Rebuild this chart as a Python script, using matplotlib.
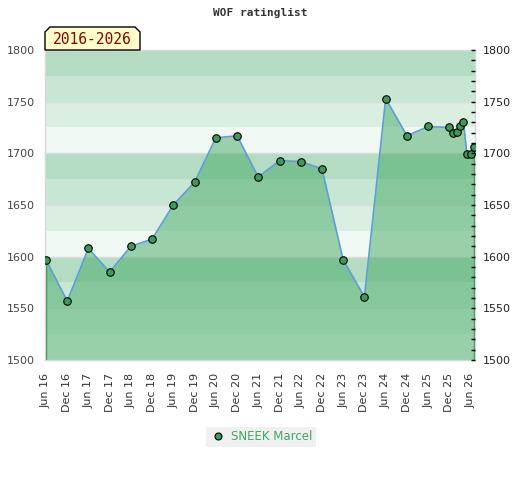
import matplotlib
matplotlib.use("Agg")
import matplotlib.pyplot as plt
import matplotlib.dates as mdates
from matplotlib.patches import Polygon
from matplotlib.lines import Line2D
import numpy as np
import datetime as dt

# ---- data ----
dates = ["2016-06-01", "2016-12-01", "2017-06-01", "2017-12-01", "2018-06-01",
         "2018-12-01", "2019-06-01", "2019-12-01", "2020-06-01", "2020-12-01",
         "2021-06-01", "2021-12-01", "2022-06-01", "2022-12-01", "2023-06-01",
         "2023-12-01", "2024-06-01", "2024-12-01", "2025-06-01", "2025-12-01",
         "2026-01-01", "2026-02-01", "2026-03-01", "2026-04-01", "2026-05-01",
         "2026-06-01", "2026-07-01"]
ratings = [1597, 1557, 1608, 1585, 1610, 1617, 1650, 1672, 1715, 1717,
           1677, 1693, 1692, 1685, 1597, 1561, 1753, 1717, 1726, 1725,
           1720, 1721, 1726, 1730, 1699, 1699, 1706]
tick_dates = ["2016-06-01", "2016-12-01", "2017-06-01", "2017-12-01", "2018-06-01",
              "2018-12-01", "2019-06-01", "2019-12-01", "2020-06-01", "2020-12-01",
              "2021-06-01", "2021-12-01", "2022-06-01", "2022-12-01", "2023-06-01",
              "2023-12-01", "2024-06-01", "2024-12-01", "2025-06-01", "2025-12-01",
              "2026-06-01"]
tick_labels = ["Jun 16", "Dec 16", "Jun 17", "Dec 17", "Jun 18", "Dec 18", "Jun 19",
               "Dec 19", "Jun 20", "Dec 20", "Jun 21", "Dec 21", "Jun 22", "Dec 22",
               "Jun 23", "Dec 23", "Jun 24", "Dec 24", "Jun 25", "Dec 25", "Jun 26"]
y_ticks = [1500, 1550, 1600, 1650, 1700, 1750, 1800]
title = "WOF ratinglist"
period = "2016-2026"
player = "SNEEK Marcel"

x = [dt.datetime.strptime(d, "%Y-%m-%d") for d in dates]
xt = [dt.datetime.strptime(d, "%Y-%m-%d") for d in tick_dates]

W, H = 520, 480
fig = plt.figure(figsize=(W / 100, H / 100), dpi=100)
L, R, T, B = 45, 475, 50, 360
ax = fig.add_axes([L / W, 1 - B / H, (R - L) / W, (B - T) / H])

ymin, ymax = 1500, 1800
band_cols = ["#eff8f2", "#dbeee2", "#c8e6d4", "#b3dcc2"]
for i, lo in enumerate(np.arange(ymin, ymax, 25)):
    ax.axhspan(lo, lo + 25, color=band_cols[i % 4], lw=0, zorder=0)
for yv in y_ticks:
    ax.axhline(yv, color="#dcdcdc", lw=1, zorder=0.5)

ax.fill_between(x, ratings, ymin, color="#45a966", alpha=0.5, lw=0, zorder=1)
ax.vlines([x[0], x[-1]], ymin, [ratings[0], ratings[-1]], color="#2e8b4e", lw=1, zorder=2)
ax.plot(x, ratings, color="#5a9fd8", lw=1.2, zorder=3)
ax.plot(x, ratings, ls="none", marker="o", ms=5.4, mfc="#3a9c5a", mec="black",
        mew=0.8, zorder=4)

pad = dt.timedelta(days=8)
ax.set_xlim(x[0] - pad, x[-1] + pad)
ax.set_ylim(ymin, ymax)
ax.set_xticks(xt)
ax.set_xticklabels(tick_labels, rotation=90, fontsize=8, color="#333333")
ax.tick_params(axis="x", length=0, pad=9)
ax.set_yticks(y_ticks)
ax.tick_params(axis="y", length=0, pad=7, labelsize=8, labelcolor="#444444")
for s in ax.spines.values():
    s.set_color("#d8d8d8")
    s.set_linewidth(1)

ax2 = ax.twinx()
ax2.set_ylim(ymin, ymax)
ax2.set_yticks(y_ticks)
ax2.set_yticks(np.arange(ymin, ymax + 1, 10), minor=True)
ax2.tick_params(axis="y", which="both", direction="in", length=3, width=1,
                color="black", labelsize=8, labelcolor="#222222", pad=5.5)
for s in ax2.spines.values():
    s.set_visible(False)

fig.text(260 / W, 1 - 13 / H, title, ha="center", va="center",
         family="DejaVu Sans Mono", fontweight="bold", fontsize=8, color="#333333")

bx = [(45, 50), (45, 32), (50, 27), (135, 27), (140, 32), (140, 50)]
poly = Polygon([(px / W, 1 - py / H) for px, py in bx], closed=True,
               transform=fig.transFigure, facecolor="#ffffcc", edgecolor="black",
               lw=1, zorder=10)
fig.patches.append(poly)
fig.text(92.5 / W, 1 - 39.5 / H, period, ha="center", va="center",
         family="DejaVu Sans Mono", fontsize=10.5, color="#8b0000", zorder=11)

# legend
leg_bg = Polygon([(206 / W, 1 - 427 / H), (316 / W, 1 - 427 / H),
                  (316 / W, 1 - 447 / H), (206 / W, 1 - 447 / H)], closed=True,
                 transform=fig.transFigure, facecolor="#f0f0f0", edgecolor="none")
fig.patches.append(leg_bg)
fig.lines.append(Line2D([218 / W], [1 - 436 / H], transform=fig.transFigure,
                        marker="o", ms=5, mfc="#3a9c5a", mec="black", mew=0.8, ls="none"))
fig.text(231 / W, 1 - 436.5 / H, player, ha="left", va="center",
         fontsize=8.5, color="#3daa5f")

fig.savefig("out.png", dpi=100)
